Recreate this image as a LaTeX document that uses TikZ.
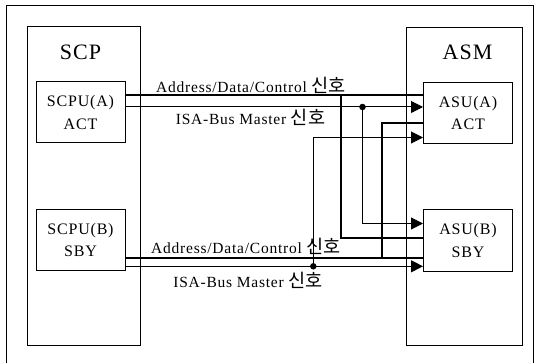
\documentclass[tikz,border=0pt]{standalone}
\usepackage{fontspec}
\setmainfont[LetterSpace=5]{Liberation Serif}
\newfontfamily\krfont[Scale=1.2]{Noto Sans CJK KR}
\usetikzlibrary{arrows.meta}
\tikzset{
  unit/.style={shape=rectangle, draw=black, line width=1pt, minimum width=89pt, minimum height=61pt, inner sep=0pt, align=center, font=\fontsize{16}{22.5}\selectfont},
  title/.style={font=\fontsize{22}{24}\selectfont, inner sep=0pt},
  sig label/.style={font=\fontsize{15.5}{17}\selectfont, inner sep=0pt},
  bus/.style={line width=2pt},
  sig/.style={line width=1pt},
  sig arrow/.style={sig, -{Triangle[length=12pt,width=12pt]}},
  junction/.style={shape=circle, fill=black, minimum size=6.5pt, inner sep=0pt}
}
\newcommand{\sinho}{{\krfont 신호}}

\begin{document}
\begin{tikzpicture}[x=1pt,y=-1pt]
\useasboundingbox (0,0) rectangle (540,363);

% frame and the two shelves
\draw[line width=1pt] (6,372) -- (6,6) -- (533,6) -- (533,372);
\draw[line width=1pt] (27,26.7) rectangle (140,345);
\draw[line width=1pt] (406,27.7) rectangle (522.5,345.7);
\node[title] (scp) at (80.5,52) {SCP};
\node[title] (asm) at (467.5,52) {ASM};

\node[unit] (cpuA) at (80.5,112.5) {SCPU(A)\\ACT};
\node[unit] (cpuB) at (80.5,240) {SCPU(B)\\SBY};
\node[unit] (asuA) at (468,113.2) {ASU(A)\\ACT};
\node[unit] (asuB) at (468,240.5) {ASU(B)\\SBY};

\node[junction] (dotA) at (362.5,107) {};
\node[junction] (dotB) at (313.3,266.3) {};

% signals from SCPU(A)
\draw[bus] (cpuA.east |- 0,95.3) -- (asuA.west |- 0,95.3);
\draw[sig arrow] (cpuA.east |- 0,107) -- (asuA.west |- 0,107);
\draw[bus] (341,95.3) |- (asuB.west |- 0,237.5);
\draw[sig arrow] (dotA.center) |- (asuB.west |- 0,223.5);

% signals from SCPU(B)
\draw[bus] (cpuB.east |- 0,258) -- (asuB.west |- 0,258);
\draw[sig arrow] (cpuB.east |- 0,266.3) -- (asuB.west |- 0,266.3);
\draw[bus] (asuA.west |- 0,123.5) -| (381.7,258);
\draw[sig arrow] (dotB.center) |- (asuA.west |- 0,137.5);

\node[sig label] (adrA) at (251,85) {Address/Data/Control \sinho};
\node[sig label] (isaA) at (250.5,117.5) {ISA-Bus Master \sinho};
\node[sig label] (adrB) at (246,246.7) {Address/Data/Control \sinho};
\node[sig label] (isaB) at (248,280) {ISA-Bus Master \sinho};

\end{tikzpicture}
\end{document}
